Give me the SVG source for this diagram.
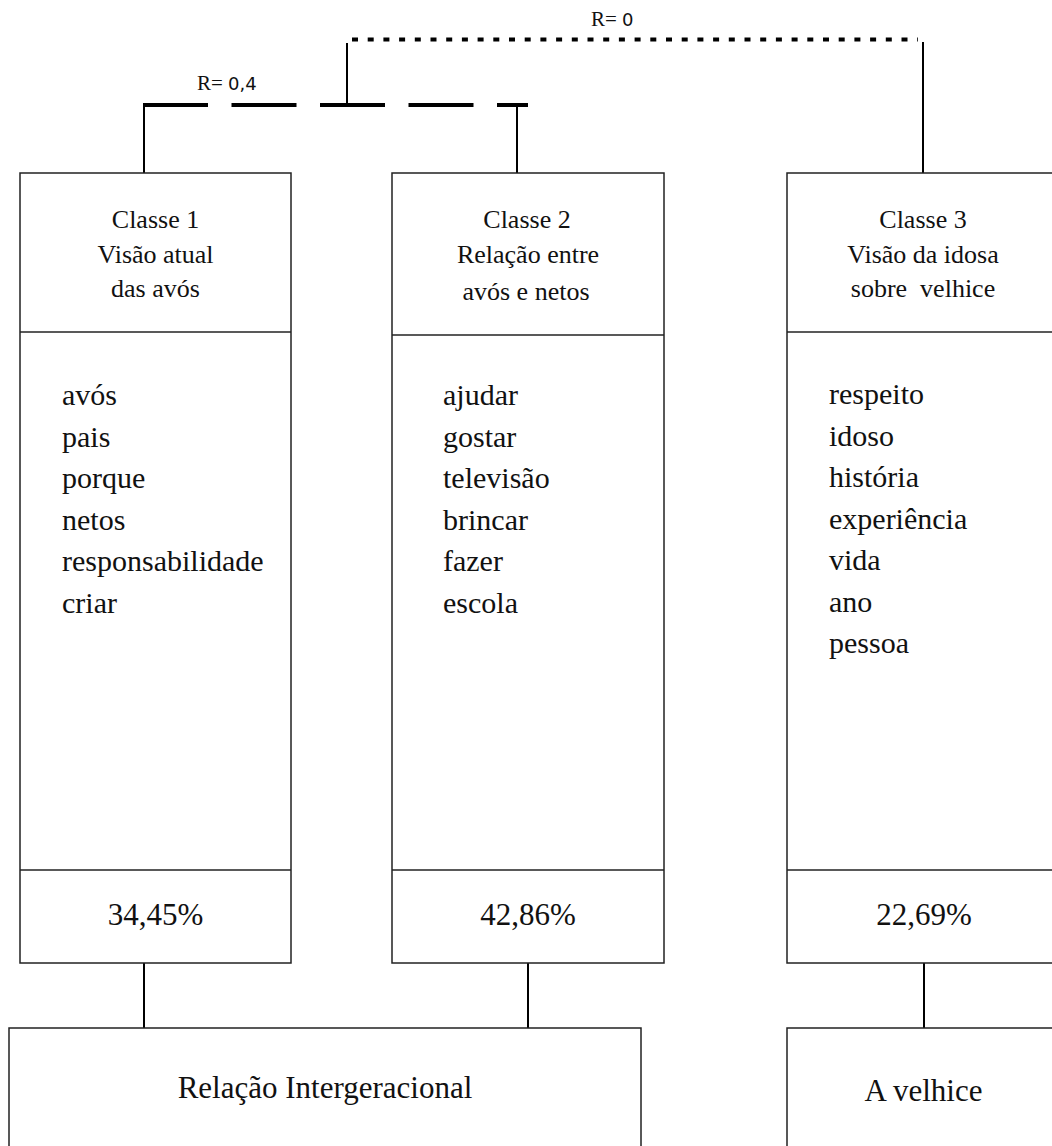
<svg xmlns="http://www.w3.org/2000/svg" width="1052" height="1146" viewBox="0 0 1052 1146">
<style>
.box{fill:#fff;stroke:#222;stroke-width:1.5}
.div{stroke:#222;stroke-width:1.5}
.t{font-family:"Liberation Serif","Times New Roman",serif;fill:#111}
.h{font-size:26px;text-anchor:middle}
.w{font-size:30px}
.p{font-size:31px;text-anchor:middle}
.b{font-size:31px;text-anchor:middle}
.r{font-size:21px}
.num{font-family:"DejaVu Sans","Liberation Sans",sans-serif;font-size:18px}
.conn{stroke:#000;stroke-width:2;fill:none}
</style>
<rect width="1052" height="1146" fill="#fff"/>
<g id="connectors">
  <line class="conn" x1="144" y1="105" x2="144" y2="173"/>
  <line class="conn" x1="517" y1="105" x2="517" y2="173"/>
  <line x1="143" y1="105" x2="528" y2="105" stroke="#000" stroke-width="4" stroke-dasharray="65 23.5"/>
  <line class="conn" x1="347" y1="105" x2="347" y2="43"/>
  <line x1="352" y1="39.5" x2="918" y2="39.5" stroke="#000" stroke-width="4" stroke-dasharray="6 9.7"/>
  <line class="conn" x1="923" y1="42" x2="923" y2="173"/>
  <line class="conn" x1="144" y1="963" x2="144" y2="1028"/>
  <line class="conn" x1="528" y1="963" x2="528" y2="1028"/>
  <line class="conn" x1="924" y1="963" x2="924" y2="1028"/>
  <text class="t r" x="197" y="90">R= <tspan class="num">0,4</tspan></text>
  <text class="t r" x="591" y="26">R= <tspan class="num">0</tspan></text>
</g>
<g id="classe1">
  <rect class="box" x="20" y="173" width="271" height="790"/>
  <line class="div" x1="20" y1="332" x2="291" y2="332"/>
  <line class="div" x1="20" y1="870" x2="291" y2="870"/>
  <text class="t h" x="155.5" y="228">Classe 1</text>
  <text class="t h" x="155.5" y="263">Visão atual</text>
  <text class="t h" x="155.5" y="297">das avós</text>
  <text class="t w" x="62" y="405">avós</text>
  <text class="t w" x="62" y="446.5">pais</text>
  <text class="t w" x="62" y="488">porque</text>
  <text class="t w" x="62" y="529.5">netos</text>
  <text class="t w" x="62" y="571">responsabilidade</text>
  <text class="t w" x="62" y="612.5">criar</text>
  <text class="t p" x="155.5" y="925">34,45%</text>
</g>
<g id="classe2">
  <rect class="box" x="392" y="173" width="272" height="790"/>
  <line class="div" x1="392" y1="335" x2="664" y2="335"/>
  <line class="div" x1="392" y1="870" x2="664" y2="870"/>
  <text class="t h" x="527" y="228">Classe 2</text>
  <text class="t h" x="528" y="263">Relação entre</text>
  <text class="t h" x="526" y="300">avós e netos</text>
  <text class="t w" x="443" y="405">ajudar</text>
  <text class="t w" x="443" y="446.5">gostar</text>
  <text class="t w" x="443" y="488">televisão</text>
  <text class="t w" x="443" y="529.5">brincar</text>
  <text class="t w" x="443" y="571">fazer</text>
  <text class="t w" x="443" y="612.5">escola</text>
  <text class="t p" x="528" y="925">42,86%</text>
</g>
<g id="classe3">
  <rect class="box" x="787" y="173" width="272" height="790"/>
  <line class="div" x1="787" y1="332" x2="1059" y2="332"/>
  <line class="div" x1="787" y1="870" x2="1059" y2="870"/>
  <text class="t h" x="923" y="228">Classe 3</text>
  <text class="t h" x="923" y="263">Visão da idosa</text>
  <text class="t h" x="923" y="297" style="white-space:pre">sobre  velhice</text>
  <text class="t w" x="829" y="404">respeito</text>
  <text class="t w" x="829" y="445.5">idoso</text>
  <text class="t w" x="829" y="487">história</text>
  <text class="t w" x="829" y="528.5">experiência</text>
  <text class="t w" x="829" y="570">vida</text>
  <text class="t w" x="829" y="611.5">ano</text>
  <text class="t w" x="829" y="653">pessoa</text>
  <text class="t p" x="924" y="925">22,69%</text>
</g>
<g id="relacao">
  <rect class="box" x="9" y="1028" width="632" height="130"/>
  <text class="t b" x="325" y="1098">Relação Intergeracional</text>
</g>
<g id="velhice">
  <rect class="box" x="787" y="1028" width="272" height="130"/>
  <text class="t b" x="923.5" y="1101">A velhice</text>
</g>
</svg>
